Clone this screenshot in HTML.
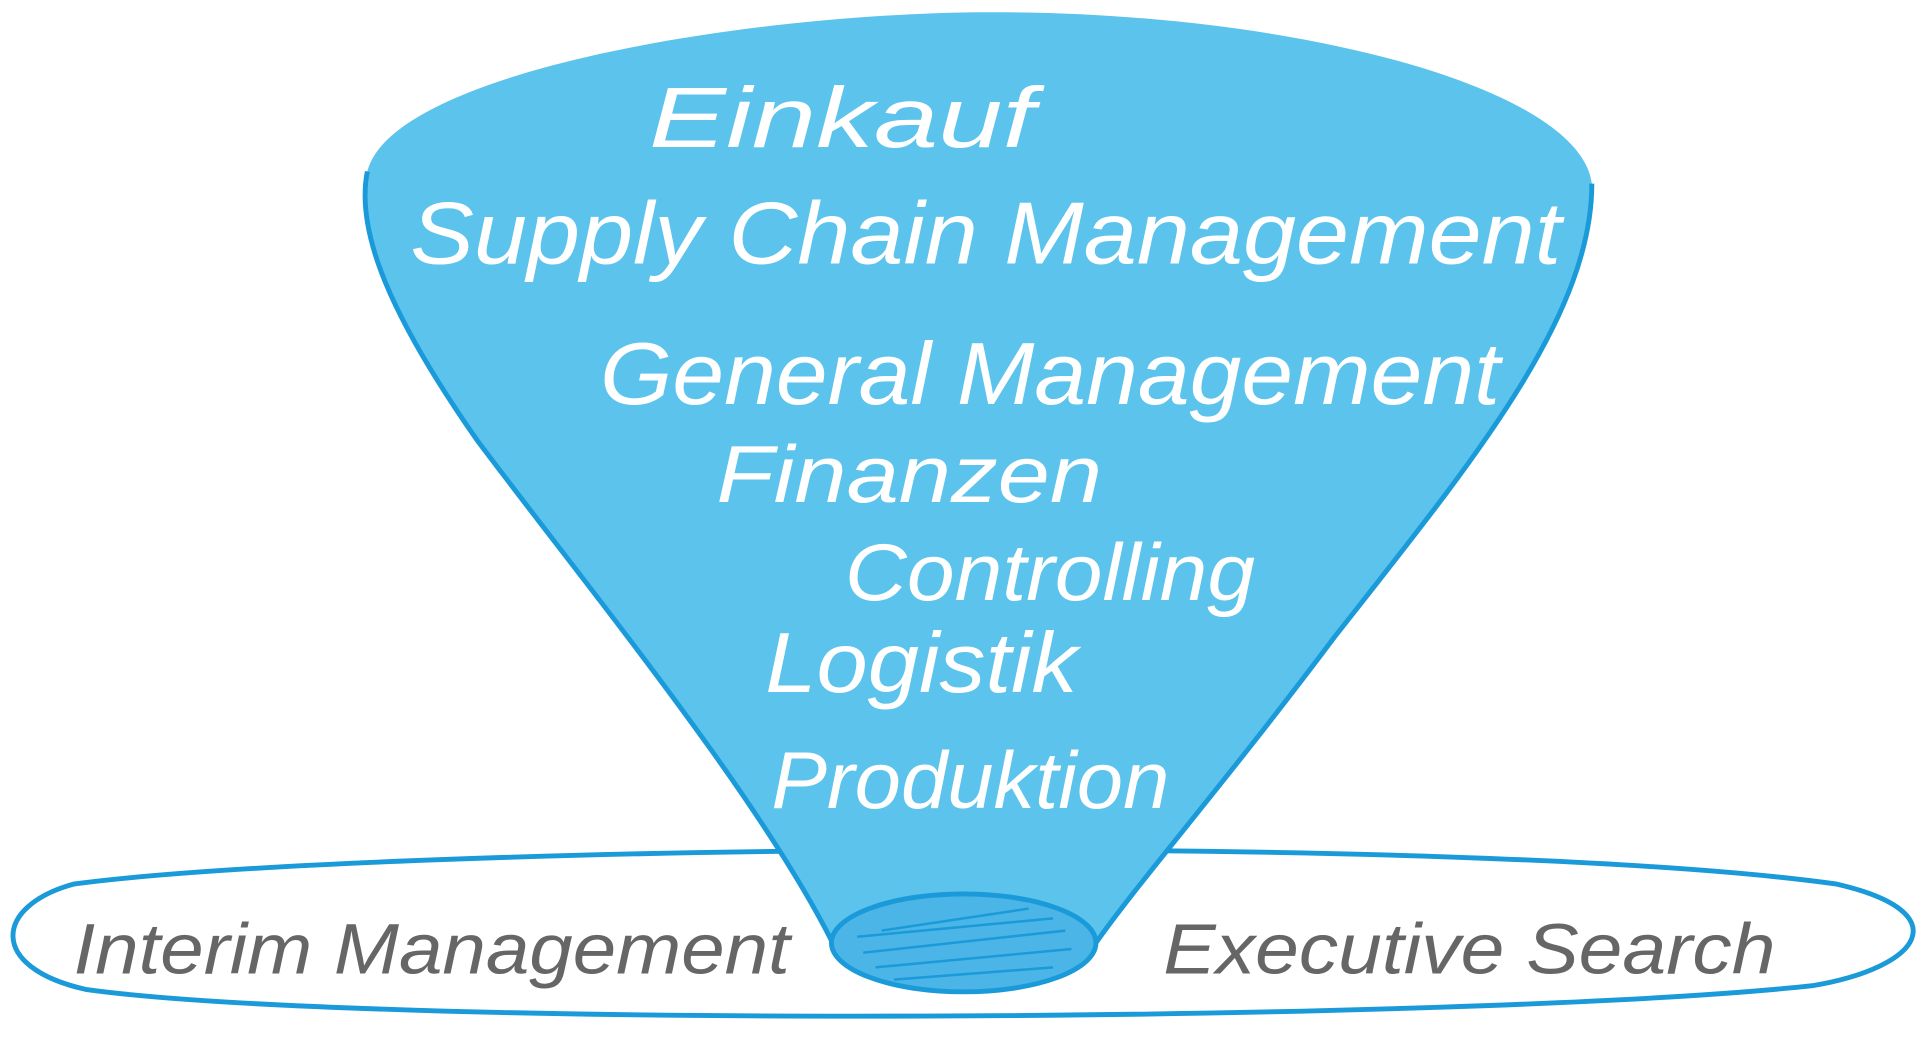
<!DOCTYPE html>
<html><head><meta charset="utf-8"><style>
html,body{margin:0;padding:0;background:#fff;width:1920px;height:1039px;overflow:hidden}
svg{display:block}
text{font-family:"Liberation Sans",sans-serif;font-style:italic}
</style></head><body>
<svg width="1920" height="1039" viewBox="0 0 1568 848.5" preserveAspectRatio="none">
<!-- bottom ellipse -->
<path d="M60,722 C300,690 1200,680 1500,722 C1600,745 1570,790 1480,805 C1200,835 300,840 70,808 C-10,790 -5,740 60,722 Z" fill="#fff" stroke="#1a9ad9" stroke-width="4"/>
<!-- funnel -->
<path d="M300,140 C320,60 600,12 800,10 C1050,8 1290,70 1300,150 C1300,260 1200,380 1090,520 C1000,640 930,720 895,770 C880,800 700,805 680,770 C620,650 480,480 390,360 C320,260 290,190 300,140 Z" fill="#5bc3ec"/>
<path d="M300,140 C290,190 320,260 390,360 C480,480 620,650 680,770" fill="none" stroke="#1a9ad9" stroke-width="4"/>
<path d="M1300,150 C1300,260 1200,380 1090,520 C1000,640 930,720 895,770" fill="none" stroke="#1a9ad9" stroke-width="4"/>
<ellipse cx="787" cy="770" rx="108" ry="40" fill="#4ab5e6" stroke="#1a9ad9" stroke-width="4"/>
<g stroke="#1a9ad9" stroke-width="2" fill="none">
<path d="M700,765 L860,750 M705,778 L870,760 M715,790 L875,775 M730,800 L860,790 M720,760 L840,742"/>
</g>
<g fill="#fff">
<text x="530" y="120" font-size="70" textLength="315" lengthAdjust="spacingAndGlyphs">Einkauf</text>
<text x="335" y="215" font-size="72" textLength="940" lengthAdjust="spacingAndGlyphs">Supply Chain Management</text>
<text x="490" y="330" font-size="72" textLength="735" lengthAdjust="spacingAndGlyphs">General Management</text>
<text x="585" y="410" font-size="66" textLength="315" lengthAdjust="spacingAndGlyphs">Finanzen</text>
<text x="690" y="490" font-size="66" textLength="335" lengthAdjust="spacingAndGlyphs">Controlling</text>
<text x="625" y="565" font-size="70" textLength="255" lengthAdjust="spacingAndGlyphs">Logistik</text>
<text x="630" y="660" font-size="66" textLength="325" lengthAdjust="spacingAndGlyphs">Produktion</text>
</g>
<g fill="#666">
<text x="60" y="795" font-size="58" textLength="585" lengthAdjust="spacingAndGlyphs">Interim Management</text>
<text x="950" y="795" font-size="58" textLength="500" lengthAdjust="spacingAndGlyphs">Executive Search</text>
</g>
</svg>
</body></html>
